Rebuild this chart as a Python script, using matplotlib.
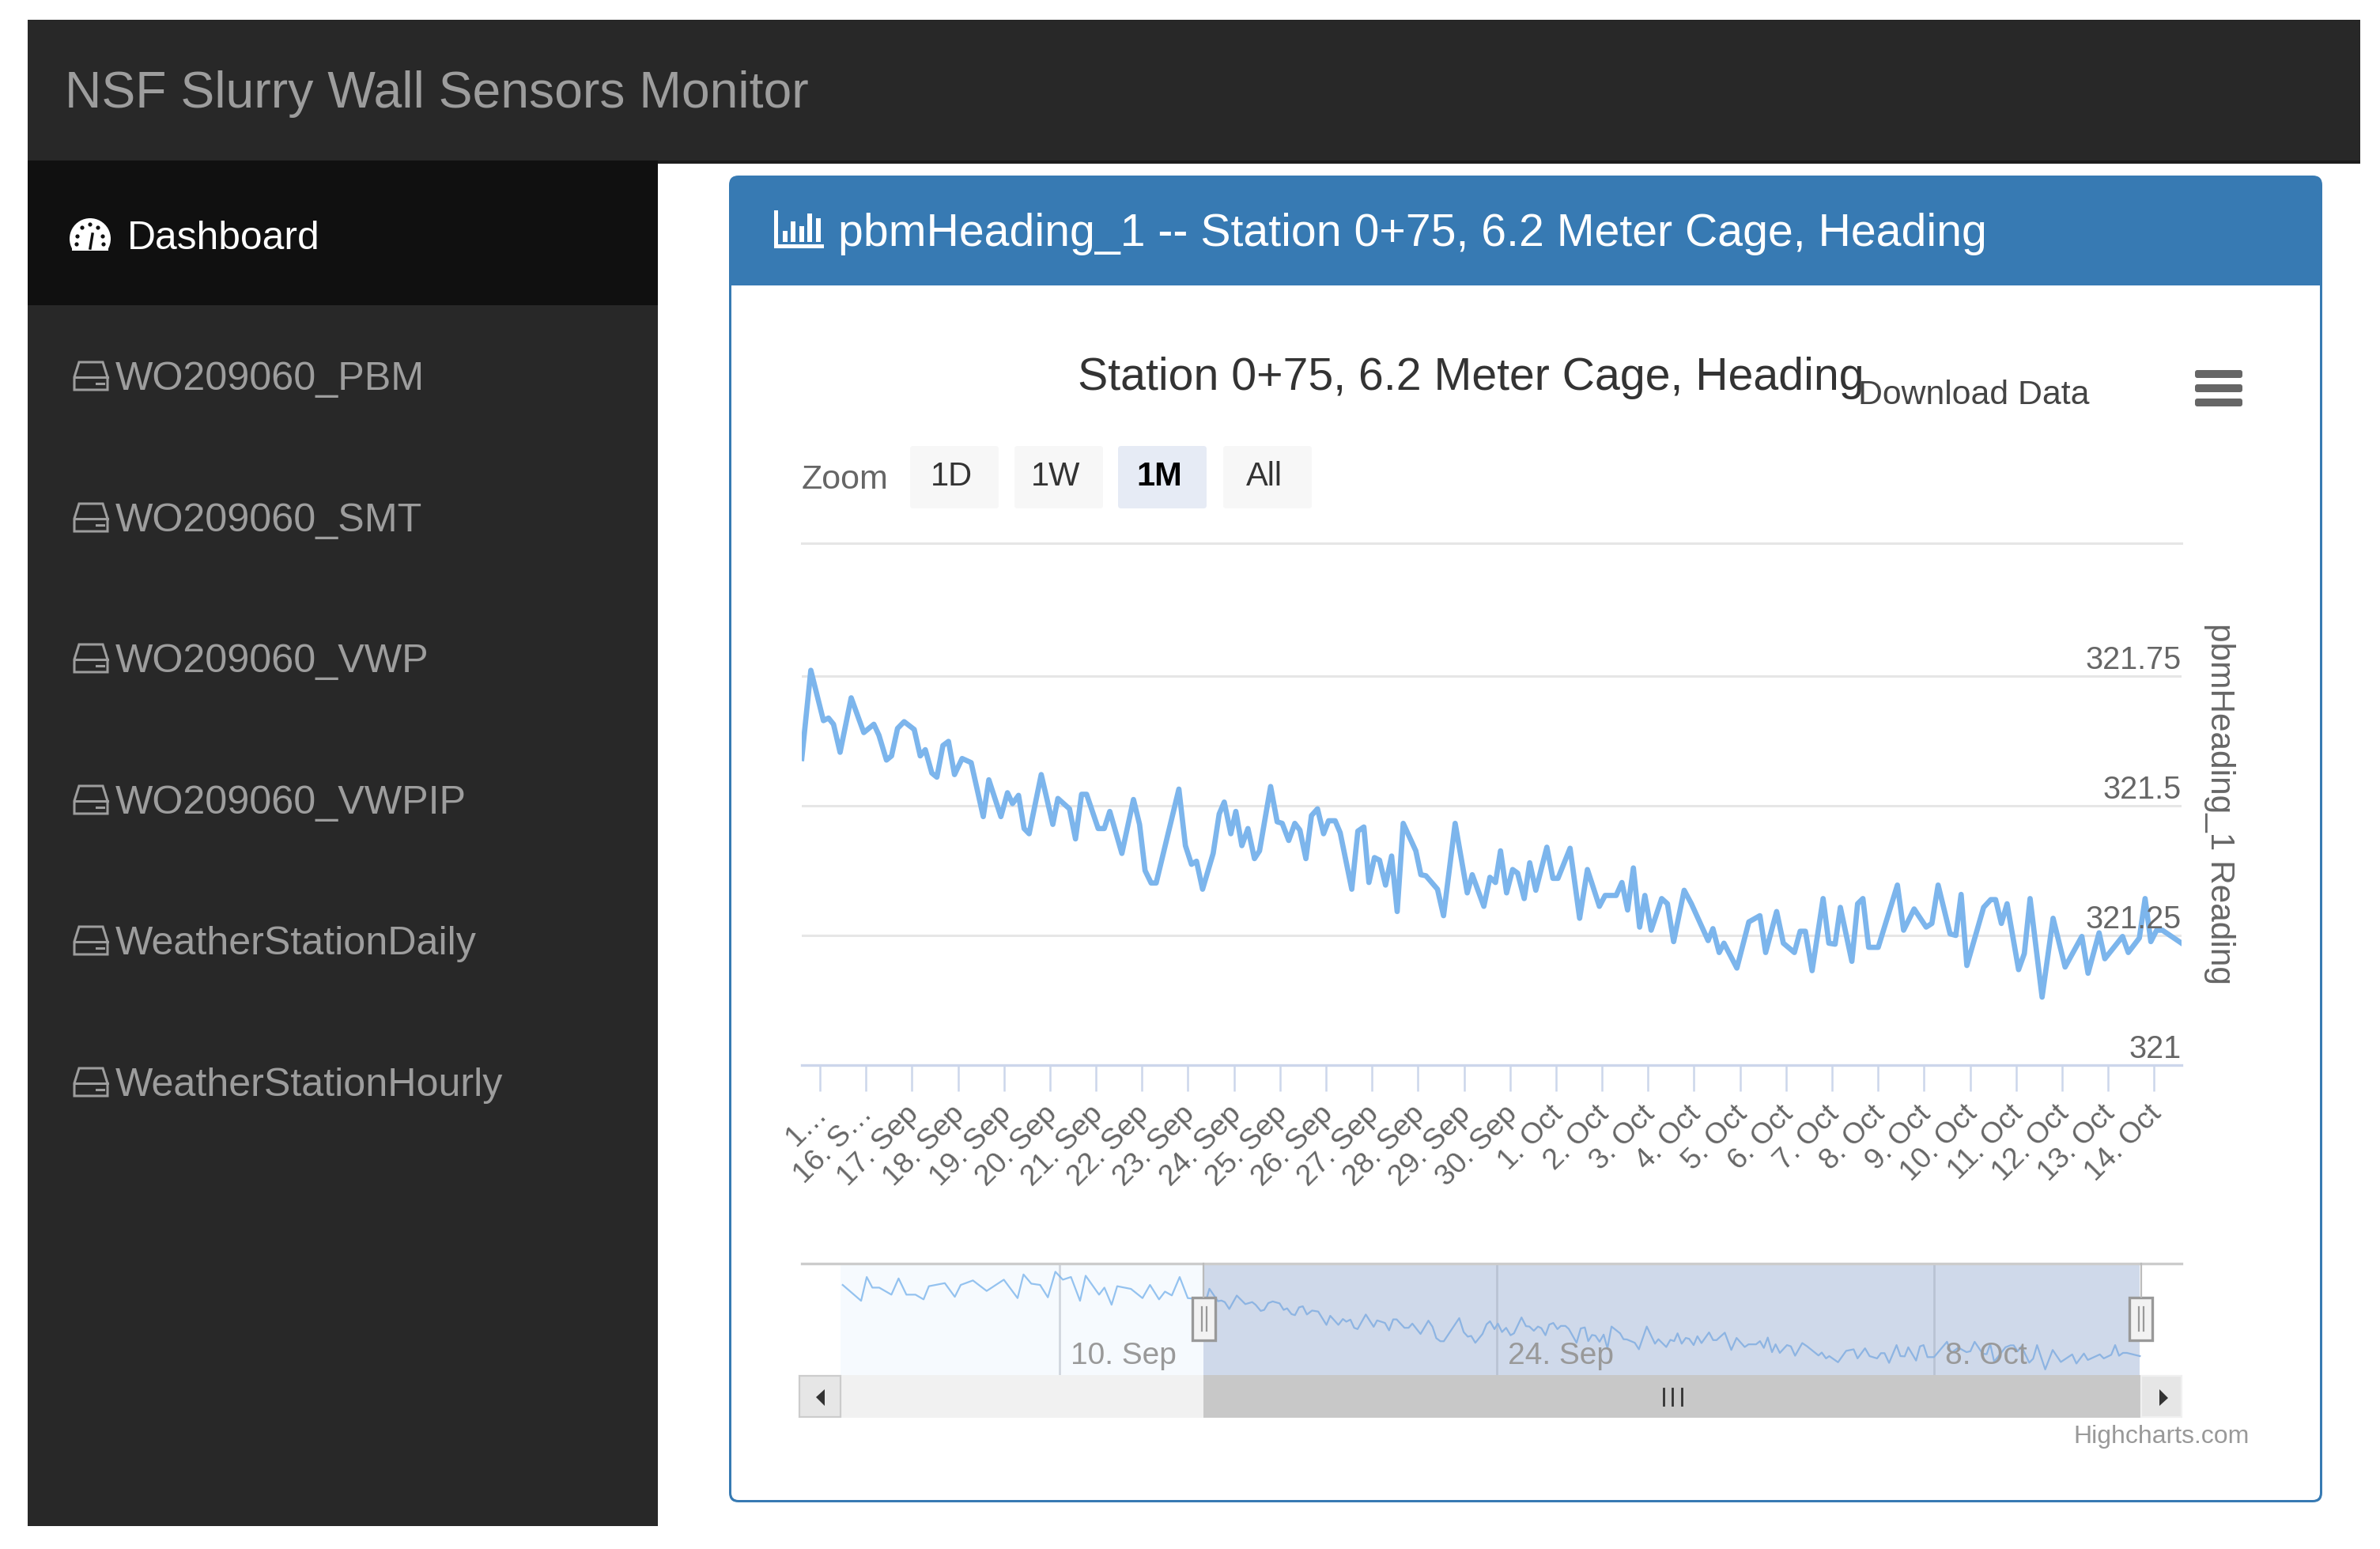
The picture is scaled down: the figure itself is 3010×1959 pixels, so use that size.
#!/usr/bin/env python3
"""NSF slurry wall monitor page: Highstock heading chart inside the dashboard."""

import matplotlib
matplotlib.use("Agg")
import matplotlib.pyplot as plt
from matplotlib.patches import Rectangle, FancyBboxPatch, Polygon, Wedge, Circle
from matplotlib.transforms import ScaledTranslation

plt.rcParams["font.family"] = ["Liberation Sans", "DejaVu Sans"]

# ── data ───────────────────────────────────────────────────────────────

# days since 15 Sep
main_days = [
    -0.395, -0.198, 0.076, 0.186, 0.295, 0.438, 0.679, 0.953, 1.172, 1.282,
    1.446, 1.556, 1.687, 1.830, 2.049, 2.180, 2.290, 2.432, 2.542, 2.673,
    2.794, 2.925, 3.090, 3.287, 3.550, 3.671, 3.933, 4.076, 4.186, 4.317,
    4.438, 4.547, 4.810, 5.062, 5.172, 5.424, 5.555, 5.687, 5.796, 6.048,
    6.180, 6.300, 6.563, 6.815, 6.947, 7.067, 7.199, 7.308, 7.802, 7.944,
    8.076, 8.185, 8.317, 8.547, 8.678, 8.788, 8.931, 9.040, 9.171, 9.303,
    9.445, 9.555, 9.796, 9.938, 10.048, 10.190, 10.322, 10.432, 10.563, 10.684,
    10.815, 10.947, 11.056, 11.199, 11.308, 11.560, 11.692, 11.823, 11.933, 12.053,
    12.163, 12.294, 12.426, 12.547, 12.678, 12.952, 13.062, 13.171, 13.423, 13.555,
    13.807, 14.070, 14.179, 14.431, 14.563, 14.684, 14.793, 14.925, 15.056, 15.165,
    15.308, 15.428, 15.560, 15.801, 15.932, 16.042, 16.305, 16.513, 16.682, 16.942,
    17.067, 17.307, 17.432, 17.556, 17.681, 17.817, 17.931, 18.067, 18.296, 18.421,
    18.556, 18.785, 18.942, 19.306, 19.410, 19.546, 19.650, 19.931, 20.191, 20.431,
    20.556, 20.795, 20.941, 21.181, 21.306, 21.420, 21.566, 21.805, 21.930, 22.066,
    22.180, 22.430, 22.555, 22.670, 22.795, 23.003, 23.420, 23.555, 23.784, 24.045,
    24.169, 24.305, 24.565, 24.690, 24.805, 24.930, 25.294, 25.450, 25.555, 25.680,
    25.804, 26.054, 26.179, 26.304, 26.565, 26.804, 27.065, 27.429, 27.564, 27.804,
    27.929, 28.314, 28.439, 28.679, 28.804, 28.929, 29.054, 29.179, 29.596,
]
main_vals = [
    321.591, 321.761, 321.664, 321.669, 321.657, 321.603, 321.708, 321.641, 321.657, 321.636,
    321.588, 321.596, 321.649, 321.662, 321.647, 321.596, 321.608, 321.563, 321.555, 321.616,
    321.624, 321.560, 321.591, 321.583, 321.479, 321.550, 321.479, 321.525, 321.504, 321.520,
    321.456, 321.446, 321.560, 321.464, 321.514, 321.494, 321.436, 321.522, 321.522, 321.456,
    321.456, 321.489, 321.408, 321.512, 321.464, 321.375, 321.351, 321.351, 321.532, 321.423,
    321.387, 321.393, 321.339, 321.408, 321.484, 321.507, 321.446, 321.489, 321.423, 321.456,
    321.398, 321.413, 321.537, 321.469, 321.466, 321.433, 321.466, 321.453, 321.398, 321.481,
    321.494, 321.446, 321.471, 321.471, 321.448, 321.339, 321.451, 321.459, 321.352, 321.400,
    321.395, 321.347, 321.403, 321.296, 321.466, 321.413, 321.367, 321.365, 321.339, 321.288,
    321.466, 321.332, 321.367, 321.306, 321.362, 321.352, 321.413, 321.332, 321.377, 321.370,
    321.321, 321.390, 321.337, 321.420, 321.360, 321.360, 321.418, 321.283, 321.377, 321.306,
    321.327, 321.327, 321.352, 321.299, 321.380, 321.266, 321.327, 321.260, 321.321, 321.311,
    321.238, 321.337, 321.311, 321.240, 321.263, 321.217, 321.235, 321.187, 321.276, 321.288,
    321.217, 321.296, 321.235, 321.217, 321.258, 321.258, 321.182, 321.321, 321.235, 321.233,
    321.304, 321.200, 321.311, 321.321, 321.227, 321.227, 321.347, 321.260, 321.301, 321.266,
    321.273, 321.347, 321.253, 321.250, 321.329, 321.192, 321.304, 321.319, 321.319, 321.273,
    321.311, 321.184, 321.215, 321.321, 321.131, 321.283, 321.189, 321.248, 321.177, 321.255,
    321.205, 321.248, 321.217, 321.245, 321.321, 321.238, 321.260, 321.260, 321.235,
]

# navigator series before the selected window
early_days = [
    -11.94, -11.35, -11.17, -10.99, -10.77, -10.38, -10.15, -9.90, -9.61, -9.35,
    -9.18, -8.67, -8.35, -8.16, -7.77, -7.33, -6.78, -6.34, -6.15, -5.90,
    -5.62, -5.37, -5.13, -4.89, -4.63, -4.34, -4.16, -3.73, -3.56, -3.33,
    -3.15, -2.71, -2.34, -2.10, -1.81, -1.62, -1.40, -1.15, -0.89, -0.46,
]
early_vals = [
    321.791, 321.667, 321.853, 321.770, 321.770, 321.715, 321.842, 321.715, 321.715, 321.678,
    321.781, 321.805, 321.698, 321.791, 321.826, 321.744, 321.832, 321.688, 321.873, 321.801,
    321.791, 321.694, 321.894, 321.832, 321.853, 321.667, 321.863, 321.715, 321.770, 321.636,
    321.781, 321.760, 321.688, 321.791, 321.678, 321.739, 321.709, 321.853, 321.688, 321.678,
]

tick_days = list(range(30))
tick_labels = ["1…", "16. S…"] + [f"{d}. Sep" for d in range(17, 31)] + [f"{d}. Oct" for d in range(1, 15)]
y_ticks = [321, 321.25, 321.5, 321.75]
y_tick_labels = ["321", "321.25", "321.5", "321.75"]
nav_tick_days = [-5, 9, 23]
nav_tick_labels = ["10. Sep", "24. Sep", "8. Oct"]
menu_labels = ["WO209060_PBM", "WO209060_SMT", "WO209060_VWP", "WO209060_VWPIP",
               "WeatherStationDaily", "WeatherStationHourly"]
range_buttons = ["1D", "1W", "1M", "All"]

W, H = 3010, 1959
DARK = "#282828"
BLUE = "#377ab3"
SERIES = "#7cb5ec"

fig = plt.figure(figsize=(W / 100, H / 100), dpi=100, facecolor="white")


def px_axes(x0, y0, x1, y1, zorder):
    """Axes placed by pixel box, y measured from the top of the page."""
    ax = fig.add_axes([x0 / W, 1 - y1 / H, (x1 - x0) / W, (y1 - y0) / H], zorder=zorder)
    ax.patch.set_alpha(0)
    return ax


# ── page furniture ─────────────────────────────────────────────────────

bg = px_axes(0, 0, W, H, 0)
bg.set_xlim(0, W)
bg.set_ylim(H, 0)
bg.axis("off")


def rect(ax, x0, y0, x1, y1, color, **kw):
    ax.add_patch(Rectangle((x0, y0), x1 - x0, y1 - y0, facecolor=color, edgecolor="none", **kw))


def rrect(ax, x0, y0, x1, y1, color, r=6, **kw):
    ax.add_patch(FancyBboxPatch((x0 + r, y0 + r), x1 - x0 - 2 * r, y1 - y0 - 2 * r,
                                boxstyle=f"round,pad={r},rounding_size={r}",
                                facecolor=color, edgecolor="none", **kw))


def hdd_icon(ax, cy):
    ax.add_patch(Polygon([(94, cy + 1), (100, cy - 18), (130, cy - 18), (136, cy + 1),
                          (136, cy + 17), (94, cy + 17)],
                         closed=True, fill=False, edgecolor="#9d9d9d", lw=2.2))
    ax.plot([94, 136], [cy + 1, cy + 1], color="#9d9d9d", lw=2.2)
    ax.plot([122, 125], [cy + 9, cy + 9], color="#9d9d9d", lw=2.2)
    ax.plot([128, 131], [cy + 9, cy + 9], color="#9d9d9d", lw=2.2)


rect(bg, 35, 25, 2985, 203, DARK)
rect(bg, 832, 203, 2985, 207, "#1c1c1c")
rect(bg, 35, 203, 832, 1930, DARK)
rect(bg, 35, 203, 832, 386, "#101010")
bg.text(82, 119, "NSF Slurry Wall Sensors Monitor", color="#9d9d9d", fontsize=46.3, va="center")

# gauge icon
bg.add_patch(Wedge((114, 302), 26, 150, 390, facecolor="white", edgecolor="none"))
rect(bg, 91, 302, 137, 317, "white")
for dx, dy in [(-16, -3), (-10, -14), (0, -18), (10, -14), (16, -3), (-17, 7), (17, 7)]:
    bg.add_patch(Circle((114 + dx, 302 + dy), 2.6, facecolor="#101010", edgecolor="none"))
bg.plot([114, 117], [314, 296], color="#101010", lw=2.5)
bg.text(161, 302, "Dashboard", color="white", fontsize=35.8, va="center")

for label, cy in zip(menu_labels, [476, 655, 833, 1012, 1190, 1369]):
    hdd_icon(bg, cy)
    bg.text(146, cy + 4, label, color="#9d9d9d", fontsize=36.2, va="center")

# panel
rrect(bg, 922, 222, 2937, 1900, BLUE, r=12)
rrect(bg, 925, 500, 2934, 1897, "white", r=9)
rect(bg, 925, 361, 2934, 600, "white")
rect(bg, 979, 266, 984, 314, "white")
rect(bg, 979, 309, 1042, 314, "white")
for bx, by in [(990, 292), (1000, 280), (1011, 286), (1021, 270), (1032, 276)]:
    rect(bg, bx, by, bx + 6, 306, "white")
bg.text(1060, 296, "pbmHeading_1 -- Station 0+75, 6.2 Meter Cage, Heading", color="white",
        fontsize=41.2, va="center")

bg.text(1860, 478, "Station 0+75, 6.2 Meter Cage, Heading", color="#333333", fontsize=41.2,
        ha="center", va="center")
bg.text(2350, 500, "Download Data", color="#444444", fontsize=30.8, va="center")
for y in [473, 491, 509]:
    rrect(bg, 2776, y - 5, 2836, y + 5, "#666666", r=3)

bg.text(1014, 607, "Zoom", color="#666666", fontsize=31, va="center")
button_boxes = [(1151, 1263), (1283, 1395), (1414, 1526), (1547, 1659)]
for label, (x0, x1) in zip(range_buttons, button_boxes):
    active = label == "1M"
    rrect(bg, x0, 564, x1, 643, "#e6ebf5" if active else "#f7f7f7", r=4)
    bg.text((x0 + x1) / 2 - 4, 603, label, color="black" if active else "#333333", fontsize=30,
            fontweight="bold" if active else "normal", ha="center", va="center")

# ── main chart ─────────────────────────────────────────────────────────

ax = px_axes(1014, 687, 2759, 1347, 1)
ax.set_xlim(-0.395, 29.596)
ax.set_ylim(321, 322.006)
ax.plot(main_days, main_vals, color=SERIES, lw=4.8, solid_joinstyle="round", zorder=3)
for spine in ["left", "right"]:
    ax.spines[spine].set_visible(False)
ax.spines["top"].set_color("#e6e6e6")
ax.spines["top"].set_linewidth(2.2)
ax.spines["bottom"].set_color("#ccd6eb")
ax.spines["bottom"].set_linewidth(2.4)
ax.set_yticks([])
for v, label in zip(y_ticks, y_tick_labels):
    if v > 321:
        ax.axhline(v, color="#e6e6e6", lw=2.2, zorder=1)
    ax.annotate(label, xy=(1, v), xycoords=ax.get_yaxis_transform(), xytext=(0, 6.5),
                textcoords="offset points", ha="right", va="baseline",
                color="#666666", fontsize=28.5, zorder=4)
ax.set_xticks(tick_days, tick_labels, rotation=45, ha="right", rotation_mode="anchor",
              fontsize=26.8, color="#666666")
ax.tick_params(axis="x", length=24, width=1.8, color="#ccd6eb", pad=8)
shift = ScaledTranslation(-9 / 100, 0, fig.dpi_scale_trans)
for lab in ax.get_xticklabels():
    lab.set_transform(lab.get_transform() + shift)

# ── navigator ──────────────────────────────────────────────────────────

nav = px_axes(1014, 1598, 2759, 1739, 1)
nav.set_xlim(-13.25, 30.93)
nav.set_ylim(321.087, 321.958)
nav.axis("off")
nav.axvspan(-12.0, -0.4, color="#f6fafe", lw=0, zorder=0)
nav.axvspan(-0.4, 29.6, color="#cfd9ea", lw=0, zorder=1)
for d, label in zip(nav_tick_days, nav_tick_labels):
    nav.axvline(d, color="#9aa3b2", alpha=0.4, lw=2, zorder=2)
    nav.annotate(label, xy=(d, 321.087), xytext=(10, 10), textcoords="offset points",
                 color="#999999", fontsize=28, va="baseline", zorder=4)
nav.plot(early_days, early_vals, color=SERIES, lw=1.6, alpha=0.8, zorder=3)
nav.plot(main_days, main_vals, color="#8db4e2", lw=1.6, zorder=3)

# ── navigator overlays and scrollbar ───────────────────────────────────

fg = px_axes(0, 0, W, H, 2)
fg.set_xlim(0, W)
fg.set_ylim(H, 0)
fg.axis("off")

fg.plot([1014, 2759], [1598, 1598], color="#cccccc", lw=2.4)
fg.plot([1522, 1522], [1598, 1640], color="#bbbbbb", lw=1.6)
fg.plot([2708, 2708], [1598, 1640], color="#bbbbbb", lw=1.6)
rect(fg, 1010, 1739, 2759, 1793, "#f1f1f1")
rect(fg, 1522, 1739, 2708, 1793, "#c8c8c8")
fg.add_patch(Rectangle((1011, 1740), 52, 52, facecolor="#e6e6e6", edgecolor="#cccccc", lw=1.6))
fg.add_patch(Rectangle((2708, 1740), 51, 52, facecolor="#e6e6e6", edgecolor="#f0f0f0", lw=1.6))
fg.add_patch(Polygon([(1043, 1757), (1043, 1778), (1032, 1767)], closed=True, facecolor="#333333"))
fg.add_patch(Polygon([(2731, 1757), (2731, 1778), (2742, 1768)], closed=True, facecolor="#333333"))
for x in [2104, 2115, 2127]:
    fg.plot([x, x], [1756, 1777], color="#333333", lw=2)
for x0, x1 in [(1508, 1537), (2693, 2722)]:
    fg.add_patch(Rectangle((x0, 1641), x1 - x0, 54, facecolor="#f2f2f2", edgecolor="#999999", lw=2.4))
    for x in [(x0 + x1) / 2 - 3, (x0 + x1) / 2 + 3]:
        fg.plot([x, x], [1653, 1683], color="#999999", lw=1.6)

fg.text(2807, 1017, "pbmHeading_1 Reading", color="#666666", fontsize=30.5, rotation=270,
        ha="center", va="center")
fg.text(2845, 1817, "Highcharts.com", color="#999999", fontsize=23, ha="right", va="center")

fig.savefig("out.png", dpi=100)
